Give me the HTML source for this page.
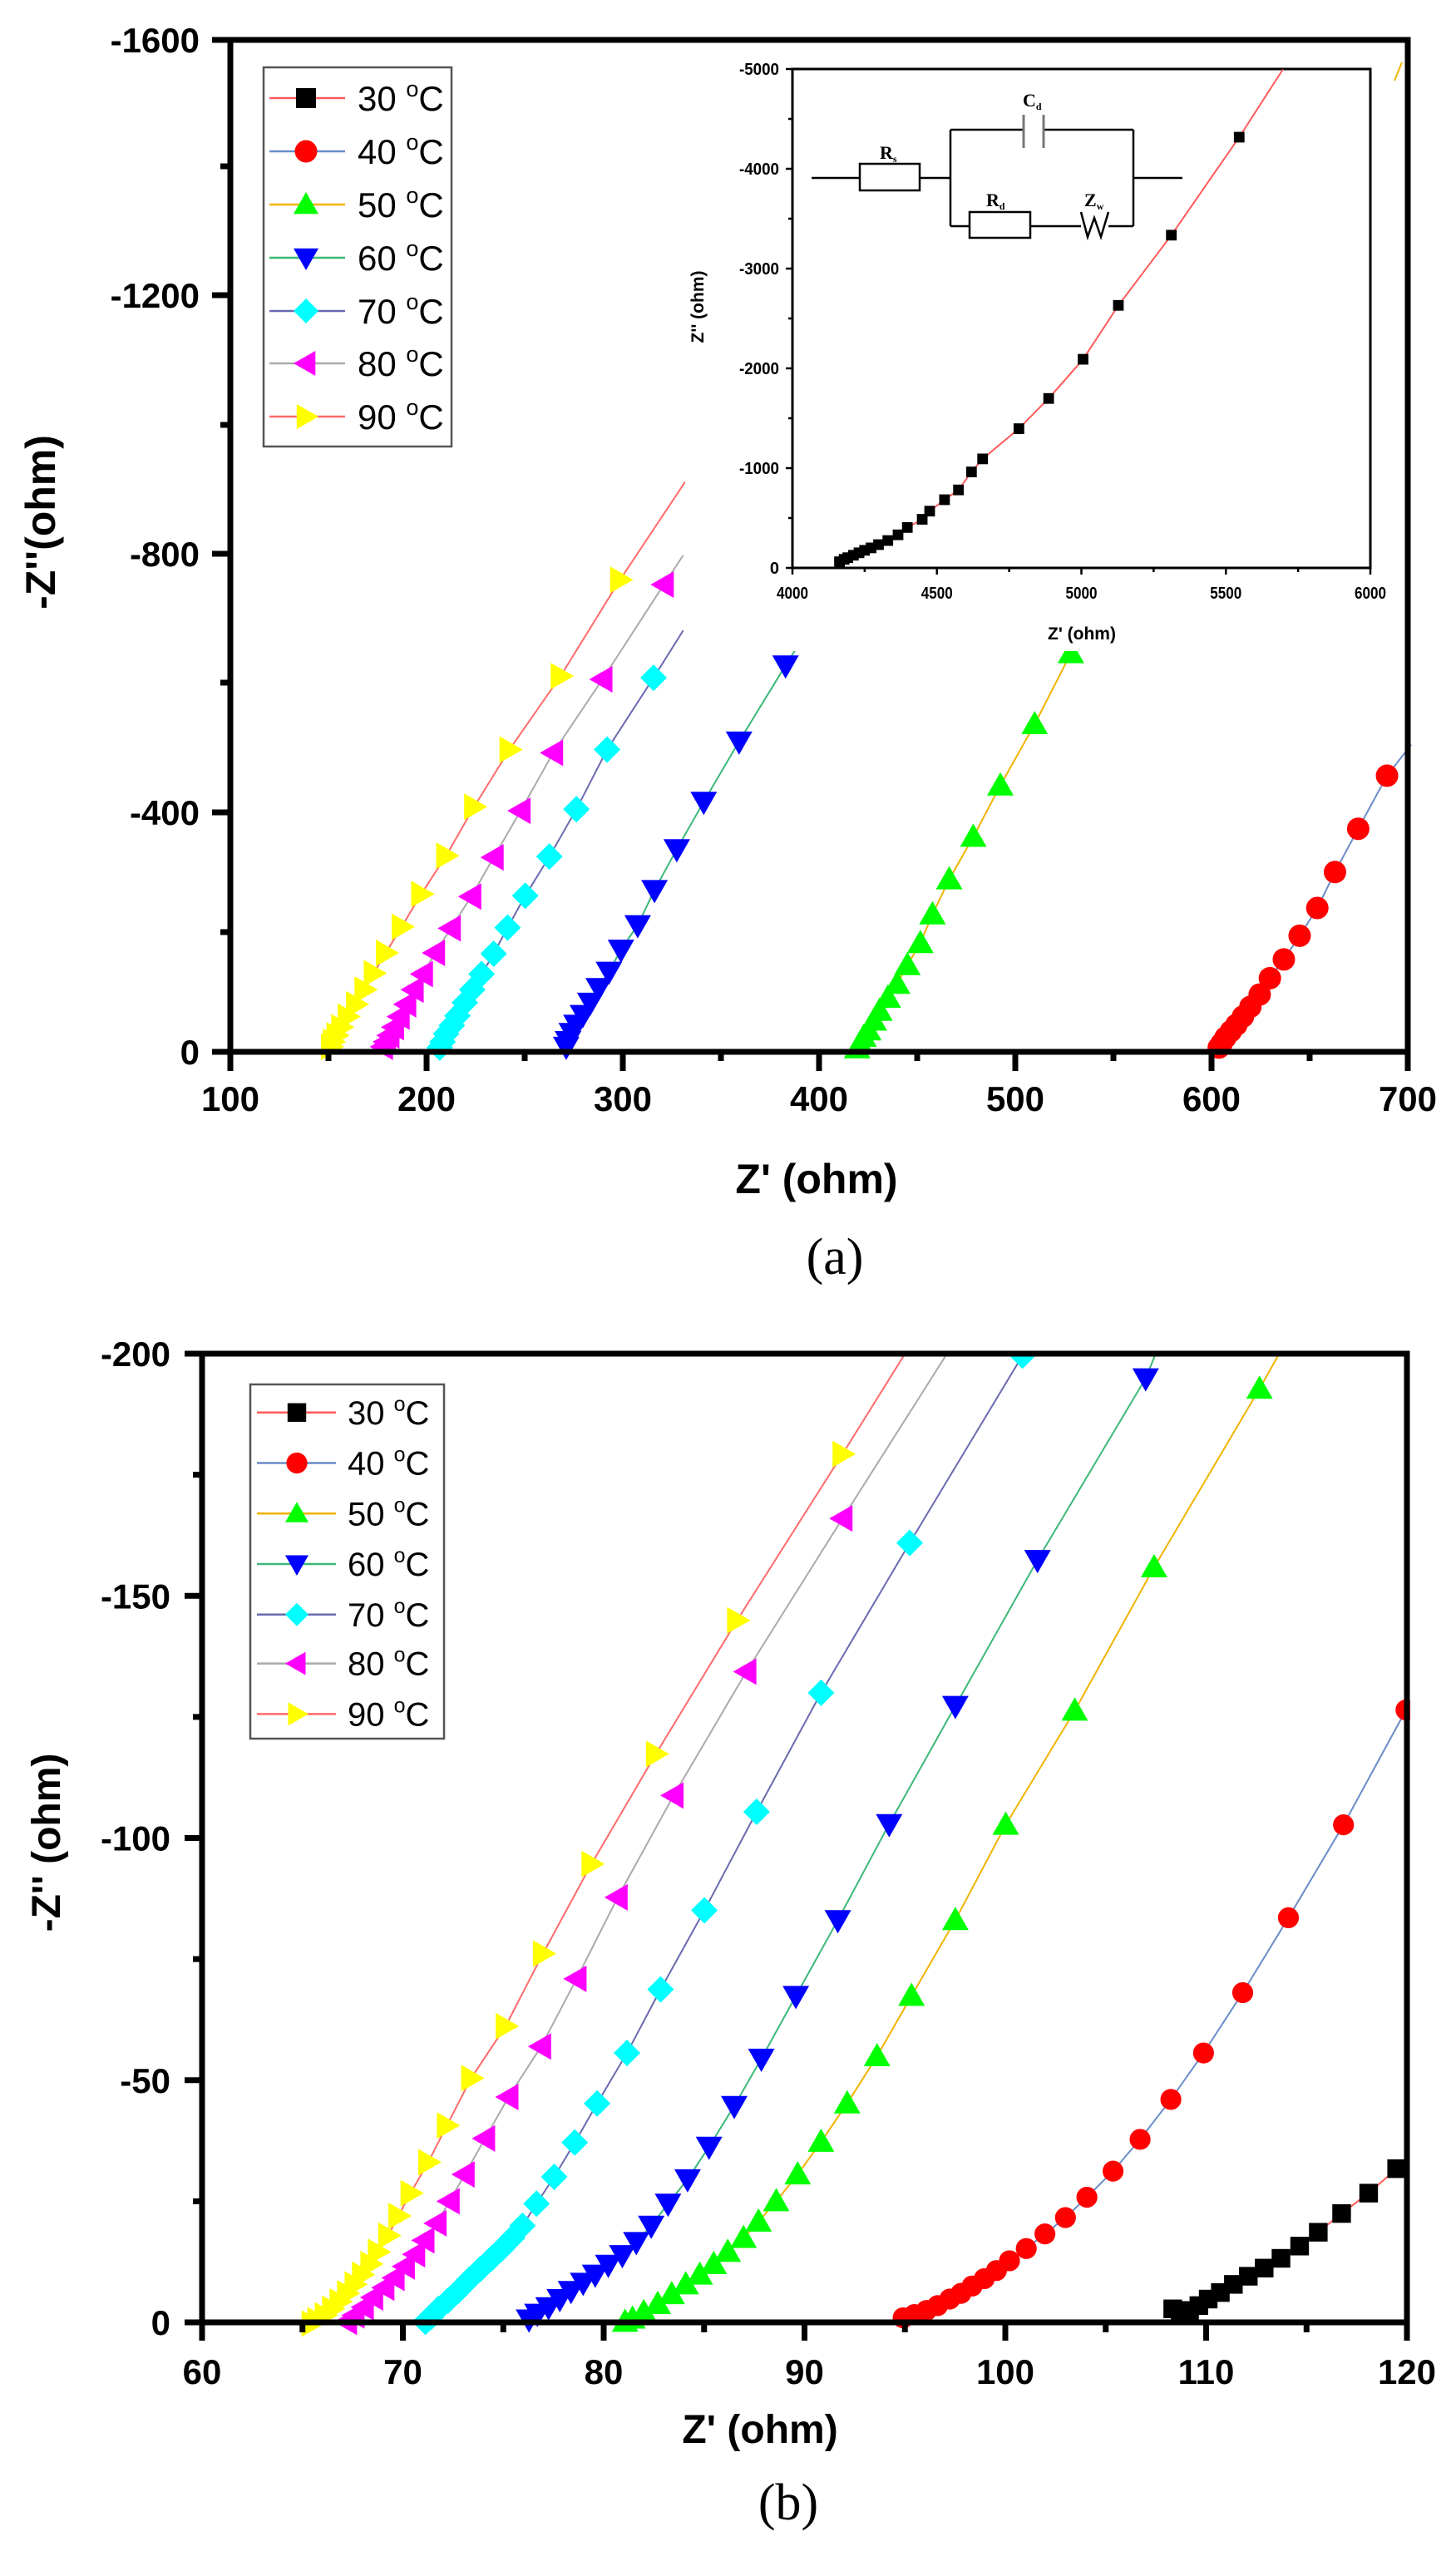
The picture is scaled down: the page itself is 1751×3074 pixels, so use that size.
<!DOCTYPE html>
<html><head><meta charset="utf-8"><style>
html,body{margin:0;padding:0;background:#fff;}
svg{display:block;}
</style></head><body>
<svg id="s" width="1751" height="3074" viewBox="0 0 1751 3074" xmlns="http://www.w3.org/2000/svg" font-family="Liberation Sans, Arial, sans-serif"></svg>
<script>
var out=[];
function P(s){out.push(s);}
function mk(t,x,y,r,c){
  var s='';
  if(t=='sq') s='<rect x="'+(x-r*0.8)+'" y="'+(y-r*0.8)+'" width="'+(r*1.6)+'" height="'+(r*1.6)+'" fill="'+c+'"/>';
  else if(t=='ci') s='<circle cx="'+x+'" cy="'+y+'" r="'+(r*0.9)+'" fill="'+c+'"/>';
  else {
    var pts;
    if(t=='up') pts=[[x,y-r],[x+r,y+r*0.75],[x-r,y+r*0.75]];
    if(t=='dn') pts=[[x,y+r],[x+r,y-r*0.75],[x-r,y-r*0.75]];
    if(t=='lt') pts=[[x-r,y],[x+r*0.75,y-r],[x+r*0.75,y+r]];
    if(t=='rt') pts=[[x+r,y],[x-r*0.75,y-r],[x-r*0.75,y+r]];
    if(t=='di') pts=[[x,y-r],[x+r,y],[x,y+r],[x-r,y]];
    s='<polygon points="'+pts.map(function(p){return p[0].toFixed(1)+','+p[1].toFixed(1)}).join(' ')+'" fill="'+c+'"/>';
  }
  P(s);
}
function series(pts,lineEnd,lineStart,tf,lc,t,c,r){
  var all=pts.slice().reverse();
  if(lineStart) all.unshift(lineStart);
  if(lineEnd) all.push(lineEnd);
  var d=all.map(function(p,i){var q=tf(p);return (i?'L':'M')+q[0].toFixed(1)+','+q[1].toFixed(1);}).join('');
  P('<path d="'+d+'" fill="none" stroke="'+lc+'" stroke-width="2"/>');
  pts.forEach(function(p){var q=tf(p);mk(t,q[0],q[1],r,c);});
}
var TA=function(p){return [p[0]*1.118,p[1]*0.982];};
var TB=function(p){return [p[0]*1.122,1540+p[1]*0.98];};
var LC={30:'#ff5a5a',40:'#6a8cc8',50:'#f0b400',60:'#3cb878',70:'#6a6ab0',80:'#aaaaaa',90:'#ff6a6a'};

/* ===== PANEL A ===== */
series([[667,710],[603,828],[548,918],[510,988],[480,1048],[453,1095],[432,1135],[415,1167],[402,1192],[392,1212],[383,1230],[374,1245],[367,1258],[362,1268],[358,1276],[356,1282]],[737,590],null,TA,LC[90],'rt','#ffff00',16);
series([[714,716],[648,832],[595,922],[560,993],[531,1050],[507,1098],[485,1137],[468,1167],[455,1193],[445,1212],[437,1230],[430,1245],[424,1258],[419,1268],[415,1276],[412,1282]],[735,680],null,TA,LC[80],'lt','#ff00ff',16);
series([[703,830],[653,918],[620,991],[591,1049],[565,1097],[546,1136],[531,1168],[518,1193],[508,1212],[500,1228],[492,1244],[486,1256],[480,1266],[476,1276],[473,1283]],[735,772],null,TA,LC[70],'di','#00ffff',16);
series([[845,815],[795,908],[757,982],[728,1040],[704,1090],[686,1133],[668,1163],[655,1190],[644,1210],[635,1228],[627,1243],[620,1255],[615,1265],[611,1275],[609,1282]],[855,797],null,TA,LC[60],'dn','#0000ff',16);
series([[1152,800],[1113,887],[1076,962],[1047,1025],[1021,1077],[1003,1120],[990,1155],[976,1182],[965,1205],[955,1222],[946,1238],[940,1250],[934,1262],[929,1270],[925,1278],[922,1284]],[1160,780],null,TA,LC[50],'up','#00ff00',16);
series([[1492,950],[1461,1015],[1436,1068],[1417,1112],[1398,1146],[1381,1175],[1366,1198],[1355,1218],[1345,1233],[1337,1245],[1330,1255],[1324,1263],[1318,1271],[1314,1278],[1311,1283]],[1518,912],null,TA,LC[40],'ci','#ff0000',15);
P('<rect x="824" y="56" width="854" height="727" fill="#fff"/>');
P('<path d="M1677,97 L1686,75" stroke="#f0b400" stroke-width="2"/>');
P('<rect x="953" y="83" width="695" height="600" fill="none" stroke="#000" stroke-width="3"/>');
var ix=function(v){return 953+(v-4000)*695/2000;}, iy=function(v){return 683-v*600/5000;};
for(var v=4000;v<=6000;v+=250){var x=ix(v);P('<line x1="'+x+'" y1="683" x2="'+x+'" y2="'+(v%500==0?691:688)+'" stroke="#000" stroke-width="2.5"/>');}
[4000,4500,5000,5500,6000].forEach(function(v){P('<text x="'+ix(v)+'" y="720" font-size="20" font-weight="bold" text-anchor="middle" textLength="38" lengthAdjust="spacingAndGlyphs">'+v+'</text>');});
for(var v=0;v<=5000;v+=500){var y=iy(v);P('<line x1="953" y1="'+y+'" x2="'+(v%1000==0?945:948)+'" y2="'+y+'" stroke="#000" stroke-width="2.5"/>');}
[0,1000,2000,3000,4000,5000].forEach(function(v){P('<text x="937" y="'+(iy(v)+7)+'" font-size="20" font-weight="bold" text-anchor="end"'+(v?' textLength="48" lengthAdjust="spacingAndGlyphs"':'')+'>'+(v?'-'+v:'0')+'</text>');});
P('<text x="1301" y="769" font-size="21" font-weight="bold" text-anchor="middle">Z\' (ohm)</text>');
P('<text transform="translate(846,369) rotate(-90)" font-size="21" font-weight="bold" text-anchor="middle">Z\'\' (ohm)</text>');
var ipts=[[903,688],[908,685],[912,683],[918,680],[924,677],[930,674],[937,671],[945,667],[955,662],[966,655],[976,646],[992,636],[1000,626],[1016,612],[1031,600],[1045,578],[1057,562],[1096,525],[1128,488],[1165,440],[1203,374],[1260,288],[1333,168]];
series(ipts.slice().reverse(),[1380,85],null,TA,LC[30],'sq','#000',8);
P('<g stroke="#000" stroke-width="2.5" fill="none">'+
'<path d="M976,214 H1034 M1106,214 H1143 M1143,156 V272 M1143,156 H1231 M1255,156 H1363 M1363,156 V272 M1363,214 H1422 M1143,272 H1166 M1239,272 H1300 M1333,272 H1363"/>'+
'<rect x="1034" y="197" width="72" height="32" fill="#fff"/>'+
'<rect x="1166" y="255" width="73" height="31" fill="#fff"/>'+
'<path d="M1300,255 L1308,285 L1316,262 L1324,285 L1333,255"/>'+
'</g><g stroke="#777" stroke-width="3"><line x1="1231" y1="138" x2="1231" y2="178"/><line x1="1255" y1="138" x2="1255" y2="178"/></g>');
P('<g font-family="Liberation Serif, serif" font-weight="bold" font-size="22">'+
'<text x="1058" y="191">R<tspan font-size="12" dy="4">s</tspan></text>'+
'<text x="1230" y="128">C<tspan font-size="12" dy="4">d</tspan></text>'+
'<text x="1186" y="248">R<tspan font-size="12" dy="4">d</tspan></text>'+
'<text x="1304" y="248">Z<tspan font-size="12" dy="4">w</tspan></text></g>');
P('<rect x="277" y="48" width="1416" height="1217" fill="none" stroke="#000" stroke-width="7"/>');
for(var v=100;v<=700;v+=50){var x=277+(v-100)*2.36;P('<line x1="'+x+'" y1="1265" x2="'+x+'" y2="'+(v%100==0?1288:1276)+'" stroke="#000" stroke-width="7"/>');}
[100,200,300,400,500,600,700].forEach(function(v){P('<text x="'+(277+(v-100)*2.36)+'" y="1336" font-size="42" font-weight="bold" text-anchor="middle">'+v+'</text>');});
var ya={0:1265,400:977,800:666,1200:355,1600:48};
[0,400,800,1200,1600].forEach(function(v){var y=ya[v];P('<line x1="277" y1="'+y+'" x2="255" y2="'+y+'" stroke="#000" stroke-width="7"/>');P('<text x="240" y="'+(y+15)+'" font-size="42" font-weight="bold" text-anchor="end">'+(v?'-'+v:'0')+'</text>');});
[1121,821,511,200].forEach(function(y){P('<line x1="277" y1="'+y+'" x2="265" y2="'+y+'" stroke="#000" stroke-width="7"/>');});
P('<text x="982" y="1435" font-size="50" font-weight="bold" text-anchor="middle">Z\' (ohm)</text>');
P('<text transform="translate(66,628) rotate(-90)" font-size="50" font-weight="bold" text-anchor="middle">-Z\'\'(ohm)</text>');
P('<text x="1004" y="1532" font-family="Liberation Serif, serif" font-size="62" text-anchor="middle">(a)</text>');
var leg=[[30,'sq','#000'],[40,'ci','#ff0000'],[50,'up','#00ff00'],[60,'dn','#0000ff'],[70,'di','#00ffff'],[80,'lt','#ff00ff'],[90,'rt','#ffff00']];
P('<rect x="317" y="81" width="226" height="456" fill="#fff" stroke="#555" stroke-width="2.5"/>');
var ry=[118,182,246,310,374,437,501];
leg.forEach(function(l,i){var y=ry[i];P('<line x1="324" y1="'+y+'" x2="415" y2="'+y+'" stroke="'+LC[l[0]]+'" stroke-width="2.5"/>');mk(l[1],368,y,15,l[2]);
P('<text x="430" y="'+(y+15)+'" font-size="42">'+l[0]+' <tspan font-size="27" dy="-17">o</tspan><tspan dy="17">C</tspan></text>');});

/* ===== PANEL B ===== */
series([[903,213],[790,417],[703,581],[634,716],[582,826],[542,915],[505,979],[479,1037],[459,1082],[440,1120],[427,1148],[416,1172],[405,1192],[397,1207],[388,1220],[380,1232],[372,1243],[364,1253],[356,1262],[348,1270],[340,1276],[334,1280]],[970,90],[328,1281],TB,LC[90],'rt','#ffff00',16);
series([[903,292],[800,480],[722,632],[662,757],[618,857],[580,940],[545,1002],[520,1053],[498,1097],[482,1130],[468,1157],[455,1178],[445,1195],[434,1210],[423,1224],[412,1236],[400,1248],[390,1260],[380,1270],[372,1278]],[1015,90],null,TB,LC[80],'lt','#ff00ff',16);
series([[1096,92],[975,322],[880,506],[811,652],[755,773],[708,870],[672,948],[640,1010],[616,1058],[594,1100],[575,1133],[560,1160],[549,1175],[538,1188],[527,1200],[515,1213],[503,1226],[491,1240],[480,1252],[470,1262],[462,1272],[456,1278]],[1100,90],null,TB,LC[70],'di','#00ffff',16);
series([[1228,120],[1112,343],[1024,522],[953,667],[898,785],[853,878],[816,955],[787,1013],[760,1063],[737,1103],[716,1133],[698,1160],[682,1180],[667,1196],[652,1208],[638,1220],[625,1230],[612,1240],[600,1250],[588,1260],[576,1268],[567,1275]],[1238,92],null,TB,LC[60],'dn','#0000ff',16);
series([[1350,133],[1237,352],[1152,528],[1078,668],[1024,785],[977,878],[940,952],[908,1010],[880,1057],[855,1097],[832,1130],[813,1155],[797,1175],[780,1192],[765,1207],[750,1220],[735,1232],[720,1244],[705,1256],[690,1266],[678,1274],[670,1278]],[1370,92],null,TB,LC[50],'up','#00ff00',16);
series([[1507,527],[1440,668],[1381,782],[1332,874],[1290,948],[1255,1005],[1222,1054],[1193,1093],[1165,1125],[1142,1150],[1120,1170],[1100,1188],[1082,1203],[1068,1215],[1055,1225],[1042,1234],[1030,1243],[1018,1250],[1005,1258],[993,1264],[980,1269],[968,1273]],[1510,520],null,TB,LC[40],'ci','#ff0000',14);
series([[1497,1090],[1467,1120],[1438,1145],[1413,1168],[1393,1185],[1373,1200],[1355,1212],[1338,1222],[1322,1232],[1308,1242],[1295,1250],[1285,1258],[1275,1264],[1265,1268],[1257,1262]],[1510,1085],null,TB,LC[30],'sq','#000',14);
P('<rect x="245" y="1570" width="1480" height="55" fill="#fff"/>');
P('<rect x="1696" y="1600" width="55" height="1300" fill="#fff"/>');
P('<rect x="243" y="1628" width="1449" height="1165" fill="none" stroke="#000" stroke-width="7"/>');
for(var v=60;v<=120;v+=5){var x=243+(v-60)*24.15;P('<line x1="'+x+'" y1="2793" x2="'+x+'" y2="'+(v%10==0?2815:2805)+'" stroke="#000" stroke-width="7"/>');}
for(var v=60;v<=120;v+=10){P('<text x="'+(243+(v-60)*24.15)+'" y="2867" font-size="42" font-weight="bold" text-anchor="middle">'+v+'</text>');}
for(var v=0;v<=200;v+=25){var y=2793-v*5.825;P('<line x1="243" y1="'+y+'" x2="'+(v%50==0?222:232)+'" y2="'+y+'" stroke="#000" stroke-width="7"/>');}
for(var v=0;v<=200;v+=50){var y=2793-v*5.825;P('<text x="205" y="'+(y+15)+'" font-size="42" font-weight="bold" text-anchor="end">'+(v?'-'+v:'0')+'</text>');}
P('<text x="914" y="2938" font-size="48" font-weight="bold" text-anchor="middle">Z\' (ohm)</text>');
P('<text transform="translate(72,2216) rotate(-90)" font-size="48" font-weight="bold" text-anchor="middle">-Z\'\' (ohm)</text>');
P('<text x="948" y="3030" font-family="Liberation Serif, serif" font-size="62" text-anchor="middle">(b)</text>');
P('<rect x="301" y="1665" width="233" height="426" fill="#fff" stroke="#555" stroke-width="2.5"/>');
[162,224,286,348,410,470,532].forEach(function(zy,i){var y=1540+zy*0.98;var l=leg[i];
P('<line x1="309" y1="'+y+'" x2="404" y2="'+y+'" stroke="'+LC[l[0]]+'" stroke-width="2.5"/>');mk(l[1],357,y,14,l[2]);
P('<text x="418" y="'+(y+14)+'" font-size="40">'+l[0]+' <tspan font-size="25" dy="-16">o</tspan><tspan dy="16">C</tspan></text>');});
document.getElementById('s').innerHTML=out.join('');
</script>
</body></html>
